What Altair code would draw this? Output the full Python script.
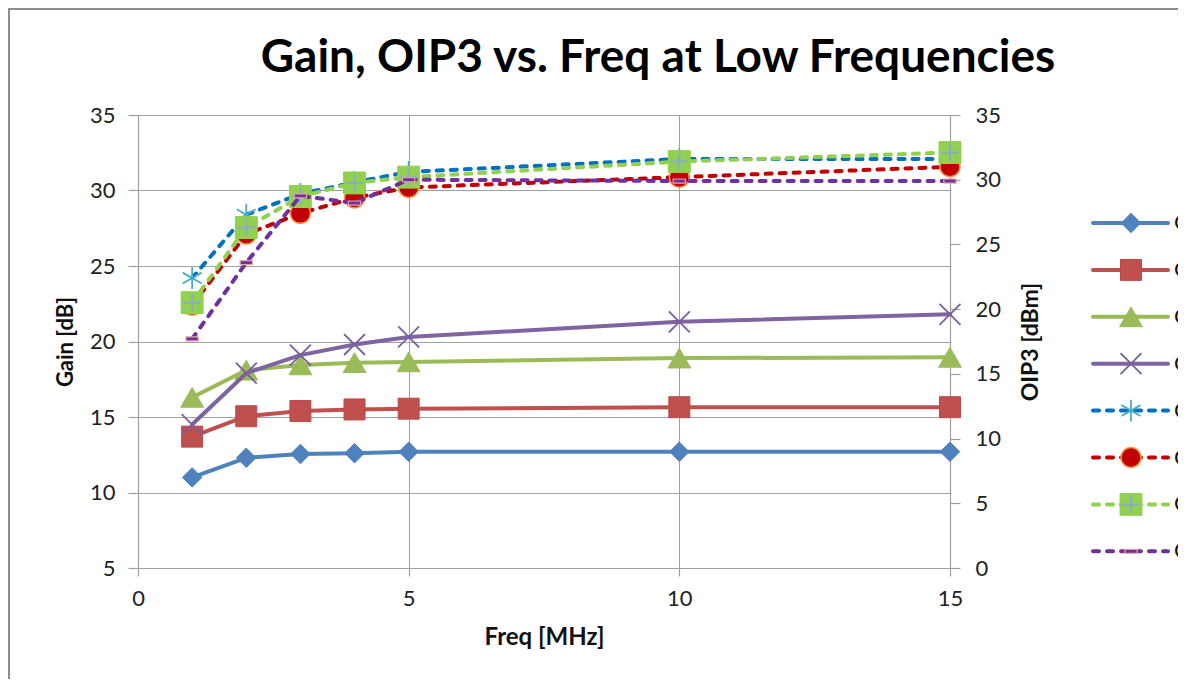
import altair as alt
import pandas as pd

# ---------------- data ----------------
freq = [1, 2, 3, 4, 5, 10, 15]

gain_1 = [11.0, 12.3, 12.55, 12.6, 12.7, 12.7, 12.7]
gain_2 = [13.7, 15.05, 15.4, 15.5, 15.55, 15.65, 15.65]
gain_3 = [16.3, 18.1, 18.45, 18.6, 18.65, 18.9, 18.95]
gain_4 = [14.5, 17.9, 19.1, 19.8, 20.3, 21.3, 21.8]

oip3_1 = [22.4, 27.3, 28.9, 29.8, 30.6, 31.6, 31.6]
oip3_2 = [20.3, 25.8, 27.4, 28.6, 29.4, 30.2, 31.0]
oip3_3 = [20.5, 26.3, 28.7, 29.75, 30.2, 31.4, 32.1]
oip3_4 = [17.7, 23.6, 28.75, 28.2, 30.0, 29.9, 29.9]

gain_labels = ["Gain 1", "Gain 2", "Gain 3", "Gain 4"]
oip3_labels = ["OIP3 1", "OIP3 2", "OIP3 3", "OIP3 4"]

x_ticks = [0, 5, 10, 15]
gain_ticks = [5, 10, 15, 20, 25, 30, 35]
oip3_ticks = [0, 5, 10, 15, 20, 25, 30, 35]

title_text = "Gain, OIP3 vs. Freq at Low Frequencies"

# ---------------- styles ----------------
W, H = 812, 453
FONT = "Lato"
GRID = "#A0A0A0"
DASH = [6, 8]

X_PATH = "M-1,-1L1,1M-1,1L1,-1"
AST_PATH = "M0,-1L0,1M-0.87,-0.5L0.87,0.5M-0.87,0.5L0.87,-0.5"
PLUS_PATH = "M-1,0L1,0M0,-1L0,1"
DASH_PATH = "M-1,-0.33L1,-0.33L1,0.33L-1,0.33Z"

gain_styles = [
    dict(color="#4F81BD", marks=[dict(shape="diamond", size=380, filled=True, fill="#4F81BD", stroke="#4F81BD", strokeWidth=1)]),
    dict(color="#C0504D", marks=[dict(shape="square", size=440, filled=True, fill="#C0504D", stroke="#B84A47", strokeWidth=1)]),
    dict(color="#9BBB59", marks=[dict(shape="triangle-up", size=520, filled=True, fill="#9BBB59", stroke="#9BBB59", strokeWidth=1)]),
    dict(color="#8064A2", marks=[dict(shape=X_PATH, size=440, filled=False, stroke="#7A5E9C", strokeWidth=1.8)]),
]
oip3_styles = [
    dict(color="#0070C0", marks=[dict(shape=AST_PATH, size=480, filled=False, stroke="#4BACC6", strokeWidth=1.8)]),
    dict(color="#C00000", marks=[dict(shape="circle", size=400, filled=True, fill="#C00000", stroke="#F79646", strokeWidth=1.5)]),
    dict(color="#92D050", marks=[dict(shape="square", size=480, filled=True, fill="#92D050", stroke="#92D050", strokeWidth=1),
                                 dict(shape=PLUS_PATH, size=300, filled=False, stroke="#8EA9C8", strokeWidth=2)]),
    dict(color="#7030A0", marks=[dict(shape=DASH_PATH, size=150, filled=True, fill="#7030A0", stroke="#E6A5A5", strokeWidth=1.2)]),
]

axis_common = dict(
    grid=True, gridColor=GRID, gridWidth=1,
    domainColor=GRID, domainWidth=1.2, tickColor=GRID, tickWidth=1.2,
    labelFont=FONT, labelFontSize=22, labelColor="#222222", labelFlush=False,
    titleFont=FONT, titleFontWeight="bold", titleColor="#111111",
)

x_enc = alt.X(
    "freq:Q",
    scale=alt.Scale(domain=[0, 15], nice=False, zero=False),
    axis=alt.Axis(values=x_ticks, title="Freq [MHz]", tickSize=8, labelPadding=12,
                  titleFontSize=24, titlePadding=16, **axis_common),
)
y_gain = alt.Y(
    "value:Q",
    scale=alt.Scale(domain=[5, 35], nice=False, zero=False),
    axis=alt.Axis(values=gain_ticks, title="Gain [dB]", tickSize=10, labelPadding=13,
                  titleFontSize=22, titlePadding=12, orient="left", **axis_common),
)
axis_right = dict(axis_common)
axis_right["grid"] = False
y_oip3 = alt.Y(
    "value:Q",
    scale=alt.Scale(domain=[0, 35], nice=False, zero=False),
    axis=alt.Axis(values=oip3_ticks, title="OIP3 [dBm]", tickSize=10, labelPadding=15,
                  titleFontSize=23, titlePadding=42, titleAngle=270, orient="right", **axis_right),
)


def series_layers(values, style, y_enc, dashed):
    df = pd.DataFrame({"freq": freq, "value": values})
    line_kw = dict(color=style["color"], strokeWidth=4, strokeCap="round", strokeJoin="round")
    if dashed:
        line_kw["strokeDash"] = DASH
    layers = [alt.Chart(df).mark_line(**line_kw).encode(x=x_enc, y=y_enc)]
    for m in style["marks"]:
        kw = dict(m)
        kw["opacity"] = 1
        if kw.get("filled"):
            kw["fillOpacity"] = 1
        layers.append(alt.Chart(df).mark_point(**kw).encode(x=x_enc, y=y_enc))
    return layers


gain_layer_list = []
for vals, st in zip([gain_1, gain_2, gain_3, gain_4], gain_styles):
    gain_layer_list += series_layers(vals, st, y_gain, False)
oip3_layer_list = []
for vals, st in zip([oip3_1, oip3_2, oip3_3, oip3_4], oip3_styles):
    oip3_layer_list += series_layers(vals, st, y_oip3, True)

gain_layer = alt.layer(*gain_layer_list)
oip3_layer = alt.layer(*oip3_layer_list)

# ---------------- manual legend (right side, cut by the picture edge) ----------------
legend_layers = []
dummy = pd.DataFrame({"d": [0]})
LEG_X0, LEG_X1, LEG_MX, LEG_TX = 955, 1030, 993, 1036
LEG_Y0, LEG_STEP = 108, 46.9
all_labels = gain_labels + oip3_labels
all_styles = gain_styles + oip3_styles
for i, (lab, st) in enumerate(zip(all_labels, all_styles)):
    yy = LEG_Y0 + i * LEG_STEP
    rule_kw = dict(color=st["color"], strokeWidth=4, strokeCap="round")
    if i >= 4:
        rule_kw["strokeDash"] = DASH
    legend_layers.append(
        alt.Chart(dummy).mark_rule(**rule_kw).encode(
            x=alt.value(LEG_X0), x2=alt.value(LEG_X1), y=alt.value(yy))
    )
    for m in st["marks"]:
        kw = dict(m)
        kw["opacity"] = 1
        if kw.get("filled"):
            kw["fillOpacity"] = 1
        legend_layers.append(
            alt.Chart(dummy).mark_point(**kw).encode(x=alt.value(LEG_MX), y=alt.value(yy))
        )
    legend_layers.append(
        alt.Chart(pd.DataFrame({"label": [lab]})).mark_text(
            align="left", baseline="middle", font=FONT, fontSize=22, color="#111111"
        ).encode(x=alt.value(LEG_TX), y=alt.value(yy), text="label:N")
    )

# chart title
title_layer = alt.Chart(pd.DataFrame({"t": [title_text]})).mark_text(
    align="center", baseline="alphabetic", font=FONT, fontSize=46, fontWeight="bold", color="#000000"
).encode(x=alt.value(520), y=alt.value(-43), text="t:N")

# chart-area border (top and left edges visible)
border_layers = [
    alt.Chart(dummy).mark_rule(color="#8C8C8C", strokeWidth=2).encode(
        x=alt.value(-129), y=alt.value(-107), y2=alt.value(570)),
    alt.Chart(dummy).mark_rule(color="#8C8C8C", strokeWidth=2).encode(
        x=alt.value(-130), x2=alt.value(1100), y=alt.value(-106)),
]

chart = alt.layer(
    gain_layer, oip3_layer, *legend_layers, title_layer, *border_layers
).resolve_scale(y="independent").properties(
    width=W, height=H,
    autosize=alt.AutoSizeParams(type="none"),
    padding={"left": 130, "top": 107, "right": 228, "bottom": 111},
).configure_view(stroke=None).configure(background="white")

chart.save("out.html", embed_options={"renderer": "svg", "actions": False})
